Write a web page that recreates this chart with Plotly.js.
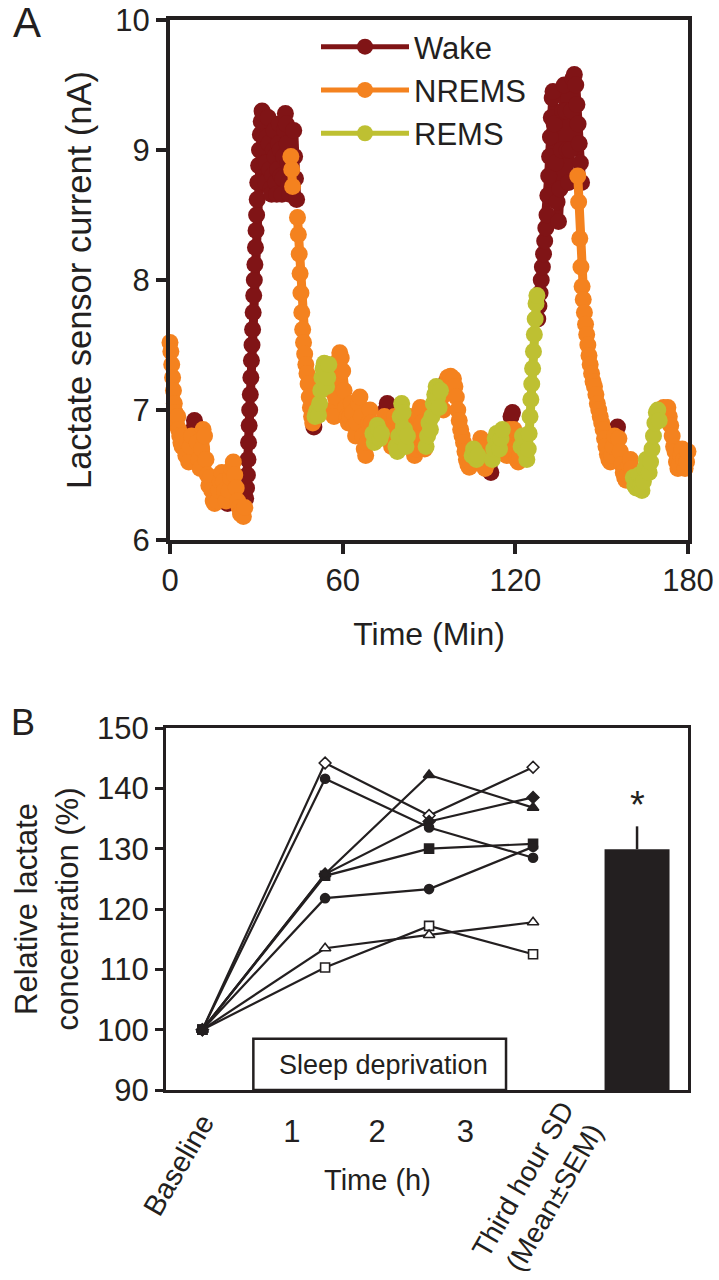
<!DOCTYPE html>
<html>
<head>
<meta charset="utf-8">
<script src="https://cdn.plot.ly/plotly-3.0.1.min.js"></script>
<style>
  html, body { margin: 0; padding: 0; background: #fff; }
  #chart { width: 719px; height: 1280px; }
</style>
</head>
<body>
<div id="chart"></div>
<script>
// ---------- panel A : lactate sensor current by vigilance state ----------
// null = break between two bouts of the same state
const wakeTime = [8, 8.5, 9, null,
  20, null,
  26.3, 26.6, 26.9, 27.1, 27.3, 27.5, 27.7, 27.9, 28.1, 28.3, 28.5, 28.7, 28.9, 29.1, 29.3, 29.5, 29.7, 29.9, 30.1, 30.3, 30.5, 30.8, 31.1, 31.4, 31.7, 32,
  32.3, 32.6, 32.9, 33.2, 33.5, 33.8, 34.1, 34.4, 34.7, 35,
  35.3, 35.6, 35.9, 36.2, 36.5, 36.8, 37.1, 37.4, 37.7, 38,
  38.3, 38.6, 38.9, 39.2, 39.5, 39.8, 40.1, 40.4, 40.7, 41, 41.3, 41.6, null,
  43, 43.3, 43.6, 44, null,
  50, null,
  75, 75.5, null,
  95.5, 96, null,
  111, 111.5, null,
  118.5, 119, null,
  127.8, 128.2, 128.6, 129, 129.4, 129.8, 130.2, 130.6, 131,
  131.3, 131.6, 131.9, 132.2, 132.5, 132.8, 133.1,
  133.5, 134, 134.5, 135, 135.5, 136, 136.5, 137, 137.5, 138,
  138.5, 139, 139.5, 140, 140.5, 141, 141.4, 141.8, 142.2, 142.6, 143, null,
  155, 155.5];
const wakeCurrent = [6.85, 6.92, 6.88, null,
  6.28, null,
  6.32, 6.4, 6.5, 6.62, 6.75, 6.88, 7.0, 7.12, 7.25, 7.38, 7.5, 7.62, 7.75, 7.88, 8.0, 8.12, 8.25, 8.38, 8.5, 8.62, 8.75, 8.88, 9.0, 9.12, 9.22, 9.3,
  9.28, 9.1, 8.9, 8.75, 8.9, 9.1, 9.25, 9.05, 8.85, 8.7,
  8.66, 8.8, 9.0, 9.15, 8.95, 8.75, 8.66, 8.85, 9.05, 9.2,
  9.0, 8.8, 8.66, 8.78, 8.95, 9.15, 9.28, 9.2, 9.05, 8.9, 8.75, 8.66, null,
  9.15, 8.95, 8.78, 8.62, null,
  6.87, null,
  7.0, 7.05, null,
  7.15, 7.22, null,
  6.58, 6.52, null,
  6.95, 6.98, null,
  7.7, 7.8, 7.9, 8.0, 8.1, 8.2, 8.3, 8.4, 8.5,
  8.65, 8.8, 8.95, 9.1, 9.25, 9.4, 9.45,
  9.2, 8.9, 8.6, 8.45, 8.7, 9.0, 9.3, 9.5, 9.3, 9.0,
  8.75, 9.0, 9.3, 9.55, 9.58, 9.5, 9.35, 9.2, 9.05, 8.9, 8.75, null,
  6.84, 6.87];

const nremTime = [0, 0.3, 0.6, 0.9, 1.2, 1.5, 1.8, 2.1, 2.4, 2.7, 3, 3.4, 3.8, 4.2, 4.6, 5, 5.5, 6, 6.5, 7, 7.5, null,
  9.5, 10, 10.5, 11, 11.5, 12, 12.5, 13, 13.5, 14, 14.5, 15, 15.5, 16, 16.5, 17, 17.5, 18, 18.5, 19, 19.5, null,
  20.5, 21, 21.5, 22, 22.5, 23, 23.5, 24, 24.5, 25, 25.5, 26, null,
  42, 42.3, 42.6, null,
  44.3, 44.6, 44.9, 45.2, 45.5, 45.8, 46.1, 46.4, 46.8, 47.2, 47.6, 48, 48.4, 48.8, 49.2, 49.6, null,
  55.6, 56, 56.5, 57, 57.5, 58, 58.5, 59, 59.5, 60, 60.5, 61, 61.5, 62, 62.5, 63, 63.5, 64, 64.5, 65,
  65.5, 66, 66.5, 67, 67.5, 68, 68.5, 69, 69.5, 70, null,
  74, 74.5, null,
  76, 76.5, 77, 77.5, 78, null,
  83, 83.5, 84, 84.5, 85, 85.5, 86, 86.5, 87, 87.5, 88, 88.5, null,
  94.5, 95, null,
  96.5, 97, 97.5, 98, 98.5, 99, 99.5, 100, 100.5, 101, 101.5, 102, 102.5, 103, 103.5, 104, 104.5, null,
  107.5, 108, 108.5, 109, 109.5, 110, 110.5, null,
  116, 116.5, 117, 117.5, 118, null,
  119.5, 120, 120.5, 121, 121.5, null,
  141.7, 142, 142.4, 142.8, 143.2, 143.6, 144, 144.4, 144.8, 145.2, 145.6, 146, 146.5, 147, 147.5, 148, 148.5, 149, 149.5, 150,
  150.5, 151, 151.5, 152, 152.5, 153, 153.5, 154, 154.5, null,
  156, 156.5, 157, 157.5, 158, 158.5, 159, 159.5, 160, 160.5, null,
  170.5, 171, 171.5, 172, 172.5, 173, 173.5, 174, 174.5, 175, 175.5, 176, 176.5, 177, 177.5, 178, 178.5, 179, 179.5, 180, 180.5, 181];
const nremCurrent = [7.52, 7.45, 7.35, 7.25, 7.15, 7.05, 6.98, 6.92, 6.88, 6.95, 6.85, 6.8, 6.75, 6.72, 6.8, 6.7, 6.65, 6.75, 6.6, 6.72, 6.8, null,
  6.75, 6.62, 6.55, 6.7, 6.85, 6.8, 6.62, 6.5, 6.42, 6.48, 6.38, 6.3, 6.28, 6.35, 6.3, 6.38, 6.45, 6.52, 6.45, 6.38, 6.3, null,
  6.38, 6.48, 6.55, 6.6, 6.5, 6.4, 6.3, 6.25, 6.2, 6.22, 6.18, 6.25, null,
  8.95, 8.85, 8.72, null,
  8.48, 8.35, 8.2, 8.05, 7.9, 7.75, 7.62, 7.52, 7.43, 7.35, 7.28, 7.2, 7.1, 7.02, 6.95, 6.9, null,
  7.3, 7.15, 7.0, 6.95, 7.1, 7.25, 7.38, 7.44, 7.4, 7.3, 7.15, 7.02, 6.95, 6.9, 6.95, 7.05, 6.98, 6.88, 6.8, 6.9,
  7.05, 7.1, 6.95, 6.8, 6.7, 6.65, 6.75, 6.9, 7.0, 6.9, null,
  6.9, 6.95, null,
  6.92, 6.8, 6.72, 6.85, 6.95, null,
  6.88, 6.95, 6.85, 6.72, 6.65, 6.7, 6.85, 6.95, 7.02, 6.9, 6.78, 6.7, null,
  7.1, 7.0, null,
  7.25, 7.22, 7.26, 7.2, 7.24, 7.18, 7.1, 7.0, 6.92, 6.85, 6.8, 6.75, 6.68, 6.62, 6.58, 6.56, 6.6, null,
  6.72, 6.78, 6.7, 6.6, 6.55, 6.58, 6.65, null,
  6.8, 6.72, 6.65, 6.7, 6.85, null,
  6.85, 6.7, 6.62, 6.6, 6.65, null,
  8.8, 8.6, 8.32, 8.1, 7.95, 7.85, 7.75, 7.66, 7.58, 7.5, 7.42, 7.35, 7.28, 7.22, 7.18, 7.12, 7.05, 7.0, 6.95, 6.9,
  6.85, 6.78, 6.72, 6.66, 6.62, 6.6, 6.65, 6.72, 6.8, null,
  6.78, 6.68, 6.58, 6.52, 6.48, 6.46, 6.5, 6.58, 6.62, 6.55, null,
  6.95, 7.0, 7.02, 7.0, 6.98, 7.02, 6.95, 6.88, 6.8, 6.72, 6.68, 6.6, 6.55, 6.58, 6.65, 6.7, 6.62, 6.55, 6.6, 6.68, 6.72, 6.65];

const remTime = [50.4, 50.8, 51.2, 51.6, 52, 52.4, 52.8, 53.2, 53.6, 54, 54.4, 54.8, 55.2, null,
  70.5, 71, 71.5, 72, 72.5, 73, 73.5, null,
  78.5, 79, 79.5, 80, 80.5, 81, 81.5, 82, 82.5, null,
  89, 89.5, 90, 90.5, 91, 91.5, 92, 92.5, 93, 93.5, 94, null,
  105, 105.5, 106, 106.5, 107, null,
  112, 112.5, 113, 113.5, 114, 114.5, 115, 115.5, null,
  122, 122.5, 123, 123.5, 124, 124.5, 124.8, 125.1, 125.4, 125.7, 126, 126.3, 126.6, 126.9, 127.2, 127.5, null,
  161, 161.5, 162, 162.5, 163, 163.5, 164, 164.5, 165, 165.5, 166, 166.5, 167, 167.5, 168, 168.5, 169, 169.5, 170];
const remCurrent = [6.95, 6.98, 7.0, 6.96, 7.05, 7.15, 7.25, 7.32, 7.36, 7.3, 7.18, 7.25, 7.35, null,
  6.82, 6.75, 6.8, 6.88, 6.85, 6.78, 6.82, null,
  6.72, 6.68, 6.8, 6.95, 7.05, 6.98, 6.85, 6.72, 6.8, null,
  6.72, 6.8, 6.9, 6.85, 6.95, 7.05, 7.12, 7.18, 7.1, 7.02, 7.15, null,
  6.65, 6.7, 6.68, 6.62, 6.65, null,
  6.62, 6.7, 6.78, 6.82, 6.75, 6.7, 6.78, 6.85, null,
  6.72, 6.8, 6.75, 6.68, 6.62, 6.7, 6.82, 6.95, 7.08, 7.2, 7.32, 7.45, 7.58, 7.7, 7.82, 7.88, null,
  6.48, 6.42, 6.4, 6.45, 6.5, 6.42, 6.38, 6.45, 6.55, 6.62, 6.58, 6.52, 6.6, 6.7, 6.8, 6.9, 6.98, 7.0, 6.92];

// ---------- panel B : relative lactate during sleep deprivation ----------
const sampleHours = [-0.18, 1, 2, 3];   // baseline sample taken before SD
const hourLabels = ['1', '2', '3'];
const openDiamond = [100, 144.2, 135.5, 143.5];
const openSquare = [100, 110.3, 117.2, 112.5];
const openTriangle = [100, 113.5, 115.7, 117.8];
const filledCircleA = [100, 141.6, 133.5, 128.5];
const filledTriangle = [100, 125.8, 142.2, 136.8];
const filledDiamond = [100, 125.8, 134.5, 138.5];
const filledSquare = [100, 125.5, 130.0, 130.8];
const filledCircleB = [100, 121.8, 123.3, 130.3];
const thirdHourMean = [129.9];
const thirdHourSem = [3.8];

const ink = '#231f20';
const fontFam = '"Liberation Sans", Arial, sans-serif';
const stateColors = { Wake: '#801416', NREMS: '#f4821f', REMS: '#bec032' };

function stateTrace(name, x, y) {
  return {
    type: 'scatter', mode: 'lines+markers', name: name, x: x, y: y,
    connectgaps: false, cliponaxis: false, showlegend: false,
    line: { color: stateColors[name], width: 9 },
    marker: { color: stateColors[name], size: 17 },
    xaxis: 'x', yaxis: 'y'
  };
}

// legend entries only (thinner line than the dense data band)
function legendTrace(name) {
  return {
    type: 'scatter', mode: 'lines+markers', name: name, x: [null], y: [null],
    line: { color: stateColors[name], width: 5 },
    marker: { color: stateColors[name], size: 16 },
    xaxis: 'x', yaxis: 'y'
  };
}

function subjectTrace(values, symbol, filled) {
  return {
    type: 'scatter', mode: 'lines+markers', x: sampleHours, y: values,
    showlegend: false, cliponaxis: false,
    line: { color: ink, width: 2.2 },
    marker: {
      symbol: symbol, size: symbol === 'triangle-up' ? 10 : 9,
      color: filled ? ink : 'white', line: { color: ink, width: 1.6 }
    },
    xaxis: 'x2', yaxis: 'y2'
  };
}

const data = [
  stateTrace('Wake', wakeTime, wakeCurrent),
  stateTrace('NREMS', nremTime, nremCurrent),
  stateTrace('REMS', remTime, remCurrent),
  legendTrace('Wake'),
  legendTrace('NREMS'),
  legendTrace('REMS'),
  subjectTrace(openSquare, 'square', false),
  subjectTrace(openTriangle, 'triangle-up', false),
  subjectTrace(openDiamond, 'diamond', false),
  subjectTrace(filledSquare, 'square', true),
  subjectTrace(filledTriangle, 'triangle-up', true),
  subjectTrace(filledDiamond, 'diamond', true),
  subjectTrace(filledCircleB, 'circle', true),
  subjectTrace(filledCircleA, 'circle', true),
  {
    type: 'bar', x: [4], y: thirdHourMean, width: 0.625, showlegend: false,
    marker: { color: ink, line: { width: 0 } },
    error_y: { type: 'data', array: thirdHourSem, visible: true, symmetric: false, width: 0, thickness: 2.5, color: ink },
    xaxis: 'x2', yaxis: 'y2'
  }
];

const W = 719, H = 1280;
const px = v => v / W;
const py = v => 1 - v / H;

const frame = (lw) => ({
  showline: true, linewidth: lw, linecolor: ink, mirror: true,
  showgrid: false, zeroline: false, tickcolor: ink, tickfont: { size: 31 }
});

const label = (text, xref, x, y, size, extra) => Object.assign({
  text: text, xref: xref, yref: 'paper', x: x, y: y, showarrow: false,
  xanchor: 'center', yanchor: 'middle', font: { size: size }
}, extra || {});

const layout = {
  width: W, height: H,
  margin: { l: 0, r: 0, t: 0, b: 0 },
  paper_bgcolor: 'white', plot_bgcolor: 'white',
  font: { family: fontFam, color: ink, size: 30 },
  showlegend: true,
  legend: {
    x: px(316), xanchor: 'left', y: py(20), yanchor: 'top',
    itemwidth: 88, bgcolor: 'rgba(0,0,0,0)', font: { size: 31, color: ink },
    itemclick: false
  },
  xaxis: Object.assign(frame(4), {
    domain: [px(170), px(688)], range: [0, 180], tickvals: [0, 60, 120, 180],
    ticks: 'outside', ticklen: 10, tickwidth: 4, anchor: 'y',
    title: { text: 'Time (Min)', font: { size: 32 }, standoff: 26 }
  }),
  yaxis: Object.assign(frame(4), {
    domain: [py(540), py(20)], range: [6, 10], tickvals: [6, 7, 8, 9, 10],
    ticks: 'outside', ticklen: 10, tickwidth: 4, anchor: 'x',
    title: { text: 'Lactate sensor current (nA)', font: { size: 34.5 }, standoff: 14 }
  }),
  xaxis2: Object.assign(frame(3), {
    domain: [px(166), px(688)], range: [-0.53, 4.49],
    tickvals: [0.68, 1.5, 2.35], ticktext: hourLabels, ticks: '', anchor: 'y2',
    ticklabelstandoff: 12
  }),
  yaxis2: Object.assign(frame(3), {
    domain: [py(1090), py(728)], range: [90, 150], dtick: 10,
    ticks: 'outside', ticklen: 8, tickwidth: 3, anchor: 'x2',
    title: { text: 'Relative lactate<br>concentration (%)', font: { size: 31 }, standoff: 10 }
  }),
  shapes: [
    { type: 'rect', xref: 'x2', yref: 'y2', x0: 0.31, x1: 2.74, y0: 90, y1: 98.5,
      line: { color: ink, width: 2.5 }, fillcolor: 'white', layer: 'below' }
  ],
  annotations: [
    label('A', 'paper', px(27), py(23), 42),
    label('B', 'paper', px(23), py(722), 36),
    { text: 'Sleep deprivation', xref: 'x2', yref: 'y2', x: 1.56, y: 94.2, showarrow: false,
      xanchor: 'center', yanchor: 'middle', font: { size: 27 } },
    { text: '*', xref: 'x2', yref: 'y2', x: 4, y: 137.2, showarrow: false,
      xanchor: 'center', yanchor: 'middle', font: { size: 38 } },
    label('Time (h)', 'x2', 1.5, py(1180), 29),
    label('Baseline', 'x2', -0.41, py(1165), 29, { textangle: -60 }),
    label('Third hour SD<br>(Mean±SEM)', 'x2', 3.05, py(1188), 28, { textangle: -60 })
  ]
};

Plotly.newPlot('chart', data, layout, { displayModeBar: false, staticPlot: true });
</script>
</body>
</html>
